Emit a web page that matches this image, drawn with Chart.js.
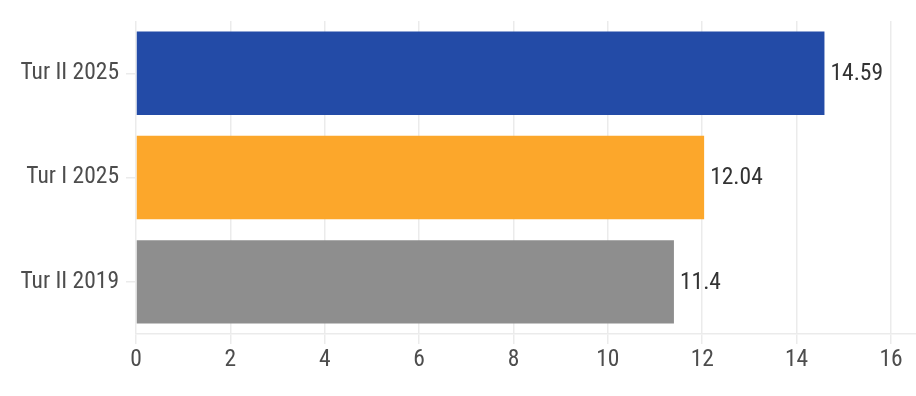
<!DOCTYPE html>
<html>
<head>
<meta charset="utf-8">
<script src="https://cdn.jsdelivr.net/npm/chart.js@4/dist/chart.umd.min.js"></script>
<style>
html,body{margin:0;padding:0;background:#fff;}
#wrap{width:916px;height:396px;position:relative;}
</style>
</head>
<body>
<div id="wrap"><canvas id="c" width="916" height="396"></canvas></div>
<script>
const categories = ["Tur II 2025", "Tur I 2025", "Tur II 2019"];
const values = [14.59, 12.04, 11.4];
const barColors = ["#234ba7", "#fca72b", "#8e8e8e"];
const xTicks = [0, 2, 4, 6, 8, 10, 12, 14, 16];

const FONT = "'Roboto Condensed', Roboto, sans-serif";

const valueLabels = {
  id: 'valueLabels',
  afterDatasetsDraw(chart) {
    const ctx = chart.ctx;
    const meta = chart.getDatasetMeta(0);
    ctx.save();
    ctx.font = "23.5px " + FONT;
    ctx.fillStyle = "#333333";
    ctx.textAlign = "left";
    ctx.textBaseline = "middle";
    meta.data.forEach((bar, i) => {
      ctx.fillText(String(values[i]), bar.x + 6, bar.y + 1);
    });
    ctx.restore();
  }
};

new Chart(document.getElementById('c'), {
  type: 'bar',
  data: {
    labels: categories,
    datasets: [{
      data: values,
      backgroundColor: barColors,
      borderWidth: 0,
      barPercentage: 0.8,
      categoryPercentage: 1.0
    }]
  },
  options: {
    indexAxis: 'y',
    responsive: false,
    animation: false,
    devicePixelRatio: 1,
    layout: { padding: { top: 21, right: 0, bottom: 0, left: 0 } },
    plugins: { legend: { display: false }, tooltip: { enabled: false } },
    scales: {
      x: {
        min: 0,
        max: 16.53,
        afterBuildTicks(scale) { scale.ticks = xTicks.map(v => ({ value: v })); },
        afterFit(scale) { scale.height = 62; },
        grid: { color: "#ebebeb", lineWidth: 1.5, tickLength: 10 },
        border: { display: true, color: "#ebebeb", width: 1.5 },
        ticks: { color: "#4d4d4d", font: { family: FONT, size: 23.5 }, padding: 2 }
      },
      y: {
        afterFit(scale) { scale.width = 136; },
        grid: { drawOnChartArea: false, drawTicks: true, offset: false, color: "#ebebeb", lineWidth: 1.5, tickLength: 10 },
        border: { display: false },
        ticks: { color: "#4d4d4d", font: { family: FONT, size: 23.5 }, padding: 7 }
      }
    }
  },
  plugins: [valueLabels]
});
</script>
</body>
</html>
